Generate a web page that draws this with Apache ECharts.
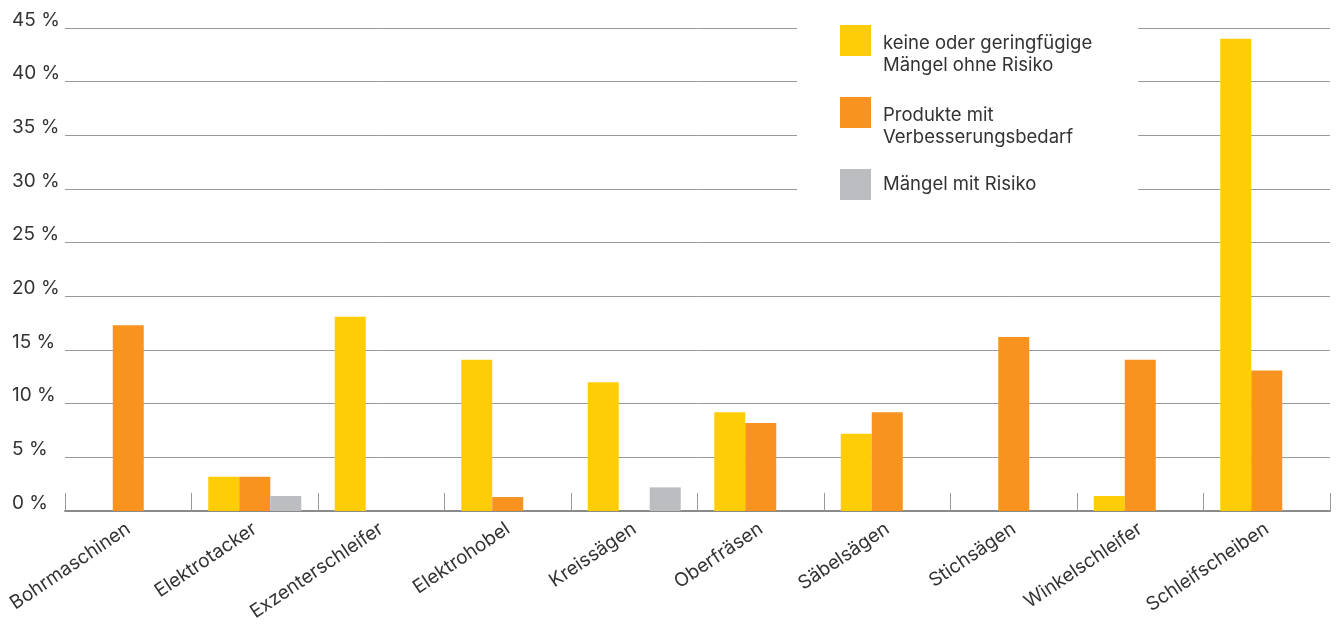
<!DOCTYPE html>
<html>
<head>
<meta charset="utf-8">
<script src="https://cdn.jsdelivr.net/npm/echarts@6/dist/echarts.min.js"></script>
<style>
html,body{margin:0;padding:0;background:#fff;}
#chart{width:1336px;height:624px;}
</style>
</head>
<body>
<div id="chart"></div>
<script>
var categories = ['Bohrmaschinen','Elektrotacker','Exzenterschleifer','Elektrohobel','Kreissägen','Oberfräsen','Säbelsägen','Stichsägen','Winkelschleifer','Schleifscheiben'];
var seriesNames = ['keine oder geringfügige\nMängel ohne Risiko','Produkte mit\nVerbesserungsbedarf','Mängel mit Risiko'];
var keineMaengel = [0, 3.2, 18.1, 14.1, 12.0, 9.2, 7.2, 0, 1.4, 44.0];
var verbesserung = [17.3, 3.2, 0, 1.3, 0, 8.2, 9.2, 16.2, 14.1, 13.1];
var risiko = [0, 1.4, 0, 0, 2.2, 0, 0, 0, 0, 0];
var colors = ['#FFCC08', '#F7931E', '#BCBDC0'];

var FONT = 'Inter';
var chart = echarts.init(document.getElementById('chart'));
var option = {
  animation: false,
  textStyle: { fontFamily: FONT },
  grid: { left: 65, right: 6, top: 28, bottom: 113, containLabel: false },
  legend: {
    orient: 'vertical',
    left: 797,
    top: 0,
    padding: [4.5, 46, 6, 43],
    backgroundColor: '#fff',
    itemWidth: 31,
    itemHeight: 31,
    itemGap: 0,
    icon: 'rect',
    selectedMode: false,
    formatter: function (name) {
      return name.indexOf('\n') >= 0 ? '{s|}\n' + name : '{u|}\n' + name + '\n{u|}';
    },
    textStyle: {
      fontFamily: FONT, fontSize: 18.5, color: '#333', lineHeight: 22, padding: [0, 0, 0, 7],
      rich: {
        s: { lineHeight: 28, fontSize: 18.5, fontFamily: FONT },
        u: { lineHeight: 25, fontSize: 18.5, fontFamily: FONT }
      }
    },
    data: seriesNames
  },
  xAxis: {
    type: 'category',
    data: categories,
    boundaryGap: true,
    axisLine: { show: true, lineStyle: { color: '#8a8a8a', width: 2 } },
    axisTick: { show: true, inside: true, length: 18, lineStyle: { color: '#999', width: 1 } },
    axisLabel: { rotate: 34, margin: 16, fontSize: 19, color: '#333', fontFamily: FONT, interval: 0 }
  },
  yAxis: {
    type: 'value',
    min: 0,
    max: 45,
    interval: 5,
    axisLine: { show: false },
    axisTick: { show: false },
    splitLine: { lineStyle: { color: '#999', width: 1 } },
    axisLabel: {
      formatter: function (v) { return v + ' %'; },
      align: 'left',
      verticalAlign: 'bottom',
      lineHeight: 16,
      margin: 53,
      fontSize: 19,
      color: '#333',
      fontFamily: FONT
    }
  },
  series: [
    { name: seriesNames[0], type: 'bar', data: keineMaengel, barWidth: 31, barGap: '0%', itemStyle: { color: colors[0] } },
    { name: seriesNames[1], type: 'bar', data: verbesserung, barWidth: 31, barGap: '0%', itemStyle: { color: colors[1] } },
    { name: seriesNames[2], type: 'bar', data: risiko, barWidth: 31, barGap: '0%', itemStyle: { color: colors[2] } }
  ]
};
chart.setOption(option);
</script>
</body>
</html>
